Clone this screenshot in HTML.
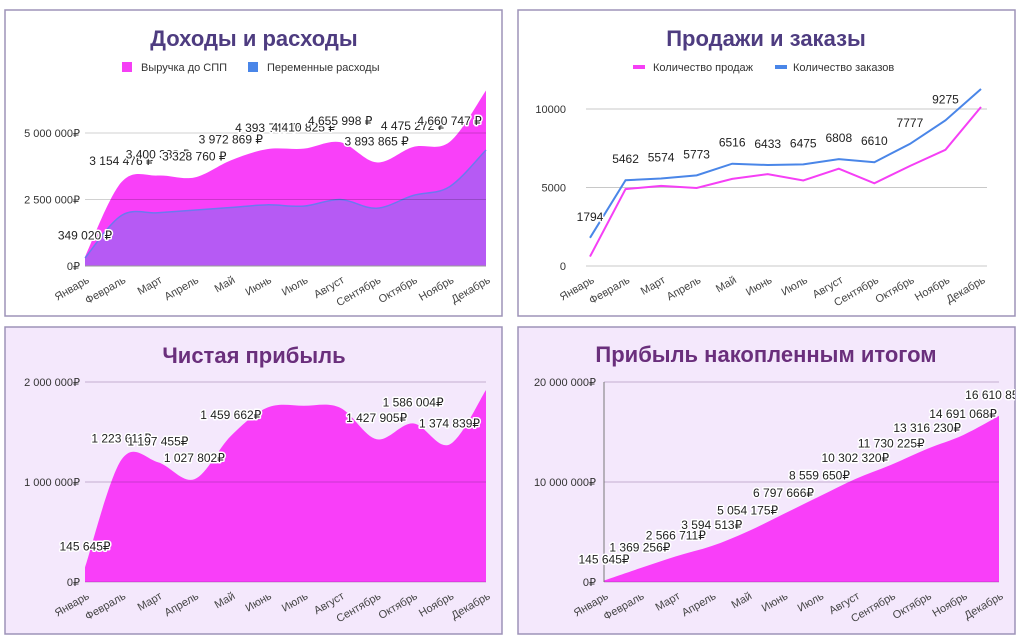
<!DOCTYPE html>
<html><head><meta charset="utf-8">
<style>
html,body{margin:0;padding:0;background:#fff;}
svg{display:block;font-family:"Liberation Sans","DejaVu Sans",sans-serif;}
.lbl{font-size:12px;fill:#222;stroke:#fff;stroke-width:3px;paint-order:stroke;stroke-linejoin:round;}
.tick{font-size:11px;fill:#333;}
.xl{font-size:11px;fill:#444;}
.title{font-size:22px;font-weight:bold;}
.leg{font-size:11px;fill:#333;}
</style></head>
<body>
<svg id="root" width="1024" height="642" viewBox="0 0 1024 642">
<defs>
<clipPath id="c1"><rect x="5" y="10" width="497" height="306"/></clipPath>
<clipPath id="c2"><rect x="518" y="10" width="497" height="306"/></clipPath>
<clipPath id="c3"><rect x="5" y="327" width="497" height="307"/></clipPath>
<clipPath id="c4"><rect x="518" y="327" width="497" height="307"/></clipPath>
</defs>
<g>
<rect x="5" y="10" width="497" height="306" fill="#fff" stroke="#9d93b8" stroke-width="1.5"/>
<text class="title" x="254" y="46" text-anchor="middle" fill="#4e3c80">Доходы и расходы</text>
<rect x="122" y="62" width="10" height="10" fill="#f53ff5"/>
<text class="leg" x="141" y="71">Выручка до СПП</text>
<rect x="248" y="62" width="10" height="10" fill="#4a86e8"/>
<text class="leg" x="267" y="71">Переменные расходы</text>
<g id="g1" clip-path="url(#c1)"></g>
</g>
<g>
<rect x="518" y="10" width="497" height="306" fill="#fff" stroke="#9d93b8" stroke-width="1.5"/>
<text class="title" x="766" y="46" text-anchor="middle" fill="#4e3c80">Продажи и заказы</text>
<rect x="633" y="65" width="12" height="4" fill="#f53ff5"/>
<text class="leg" x="653" y="71">Количество продаж</text>
<rect x="775" y="65" width="12" height="4" fill="#4a86e8"/>
<text class="leg" x="793" y="71">Количество заказов</text>
<g id="g2" clip-path="url(#c2)"></g>
</g>
<g>
<rect x="5" y="327" width="497" height="307" fill="#f4e8fc" stroke="#9d93b8" stroke-width="1.5"/>
<text class="title" x="254" y="363" text-anchor="middle" fill="#6a2f7c">Чистая прибыль</text>
<g id="g3" clip-path="url(#c3)"></g>
</g>
<g>
<rect x="518" y="327" width="497" height="307" fill="#f4e8fc" stroke="#9d93b8" stroke-width="1.5"/>
<text class="title" x="766" y="362" text-anchor="middle" fill="#6a2f7c">Прибыль накопленным итогом</text>
<g id="g4" clip-path="url(#c4)"></g>
</g>
</svg>
<script>
const months = ["Январь","Февраль","Март","Апрель","Май","Июнь","Июль","Август","Сентябрь","Октябрь","Ноябрь","Декабрь"];
const revenue = [349020,3154476,3400333,3328760,3972869,4393747,4410825,4655998,3893865,4475272,4660747,6600000];
const expenses = [300000,1900000,2000000,2100000,2200000,2300000,2250000,2500000,2170000,2650000,2980000,4360000];
const revenueLabeled = [1,1,1,1,1,1,1,1,1,1,1,0];
const salesCount = [600,4900,5100,4970,5550,5850,5450,6200,5270,6370,7400,10130];
const ordersCount = [1794,5462,5574,5773,6516,6433,6475,6808,6610,7777,9275,11270];
const ordersLabeled = [1,1,1,1,1,1,1,1,1,1,1,0];
const netProfit = [145645,1223611,1197455,1027802,1459662,1743491,1761984,1742670,1427905,1586004,1374839,1919782];
const netLabeled = [1,1,1,1,1,0,0,0,1,1,1,0];
const cumProfit = [145645,1369256,2566711,3594513,5054175,6797666,8559650,10302320,11730225,13316230,14691068,16610850];
const ticks1 = [0,2500000,5000000];
const ticks2 = [0,5000,10000];
const ticks3 = [0,1000000,2000000];
const ticks4 = [0,10000000,20000000];

const NS="http://www.w3.org/2000/svg";
function mk(parent,tag,attrs){const e=document.createElementNS(NS,tag);for(const k in attrs)e.setAttribute(k,attrs[k]);parent.appendChild(e);return e;}
function fmt(v){return Math.round(v).toString().replace(/\B(?=(\d{3})+(?!\d))/g," ");}
function smooth(pts){let d="M"+pts[0][0]+","+pts[0][1];for(let i=0;i<pts.length-1;i++){const p0=pts[i-1]||pts[i],p1=pts[i],p2=pts[i+1],p3=pts[i+2]||pts[i+1];d+=" C"+(p1[0]+(p2[0]-p0[0])/6)+","+(p1[1]+(p2[1]-p0[1])/6)+" "+(p2[0]-(p3[0]-p1[0])/6)+","+(p2[1]-(p3[1]-p1[1])/6)+" "+p2[0]+","+p2[1];}return d;}
function straight(pts){return "M"+pts.map(p=>p[0]+","+p[1]).join(" L");}
function axes(g,x0,x1,y0,pxPer,ticks,tickFmt,labelRight,axisLine){
  const xs=i=>x0+i*(x1-x0)/(months.length-1);
  const ys=v=>y0-v*pxPer;
  ticks.forEach(t=>{
    const tl=mk(g,"text",{class:"tick",x:labelRight,y:ys(t)+4,"text-anchor":"end"});tl.textContent=tickFmt(t);
    
    
  });
  months.forEach((m,i)=>{
    const x=xs(i)+5,y=y0+16;
    const t=mk(g,"text",{class:"xl",x:x,y:y,"text-anchor":"end",transform:"rotate(-30 "+x+" "+y+")"});t.textContent=m;
    
    
  });
  return {xs,ys};
}
function grid(g,x0,x1,ys,ticks,color){
  ticks.forEach(t=>{const l=mk(g,"line",{x1:x0,x2:x1,y1:ys(t),y2:ys(t),stroke:color,"stroke-width":1});
    
    });
}
function labels(g,vals,flags,xs,ys,f){
  vals.forEach((v,i)=>{if(!flags[i])return;const t=mk(g,"text",{class:"lbl",x:xs(i),y:ys(v)-17,"text-anchor":"middle"});t.textContent=f(v);
    
    });
}
// Chart 1
(function(){
  const g=document.getElementById("g1");
  const x0=85,x1=486,y0=266,pp=26.6/1e6;
  const {xs,ys}=axes(g,x0,x1,y0,pp,ticks1,t=>fmt(t)+"₽",80);
  const r=revenue.map((v,i)=>[xs(i),ys(v)]), e=expenses.map((v,i)=>[xs(i),ys(v)]);
  const a1=mk(g,"path",{d:smooth(r)+" L"+x1+","+y0+" L"+x0+","+y0+" Z",fill:"#f940f9"});
  
  
  const a2=mk(g,"path",{d:smooth(e)+" L"+x1+","+y0+" L"+x0+","+y0+" Z",fill:"#b65af4"});
  
  
  const l2=mk(g,"path",{d:smooth(e),fill:"none",stroke:"#6d78f0","stroke-width":1.5});
  
  
  grid(g,x0,x1,ys,ticks1.slice(1),"rgba(0,0,0,0.18)");
  const ax=mk(g,"line",{x1:x0,x2:x1,y1:y0,y2:y0,stroke:"#999","stroke-width":1});
  
  
  labels(g,revenue,revenueLabeled,xs,ys,v=>fmt(v)+" ₽");
})();
// Chart 2
(function(){
  const g=document.getElementById("g2");
  const x0=590,x1=981,y0=266,pp=15.7/1000;
  const {xs,ys}=axes(g,x0,x1,y0,pp,ticks2,t=>String(t),566);
  grid(g,x0-4,x1+6,ys,ticks2,"#c8c8c8");
  const s=salesCount.map((v,i)=>[xs(i),ys(v)]), o=ordersCount.map((v,i)=>[xs(i),ys(v)]);
  const ls=mk(g,"path",{d:straight(s),fill:"none",stroke:"#f53ff5","stroke-width":2});
  
  
  const lo=mk(g,"path",{d:straight(o),fill:"none",stroke:"#4a86e8","stroke-width":2});
  
  
  labels(g,ordersCount,ordersLabeled,xs,ys,v=>String(v));
})();
// Chart 3
(function(){
  const g=document.getElementById("g3");
  const x0=85,x1=486,y0=582,pp=100/1e6;
  const {xs,ys}=axes(g,x0,x1,y0,pp,ticks3,t=>fmt(t)+"₽",80);
  const p=netProfit.map((v,i)=>[xs(i),ys(v)]);
  const a=mk(g,"path",{d:smooth(p)+" L"+x1+","+y0+" L"+x0+","+y0+" Z",fill:"#f93ef9"});
  
  
  grid(g,x0,x1,ys,ticks3,"rgba(90,40,110,0.3)");
  labels(g,netProfit,netLabeled,xs,ys,v=>fmt(v)+"₽");
})();
// Chart 4
(function(){
  const g=document.getElementById("g4");
  const x0=604,x1=999,y0=582,pp=100/1e7;
  const {xs,ys}=axes(g,x0,x1,y0,pp,ticks4,t=>fmt(t)+"₽",596);
  const p=cumProfit.map((v,i)=>[xs(i),ys(v)]);
  const a=mk(g,"path",{d:smooth(p)+" L"+x1+","+y0+" L"+x0+","+y0+" Z",fill:"#f93ef9"});
  
  
  grid(g,x0,x1,ys,ticks4,"rgba(90,40,110,0.3)");
  const ya=mk(g,"line",{x1:x0,x2:x0,y1:ys(ticks4[2]),y2:y0,stroke:"#777","stroke-width":1});
  
  
  labels(g,cumProfit,cumProfit.map(()=>1),xs,ys,v=>fmt(v)+"₽");
})();
</script>
</body></html>
